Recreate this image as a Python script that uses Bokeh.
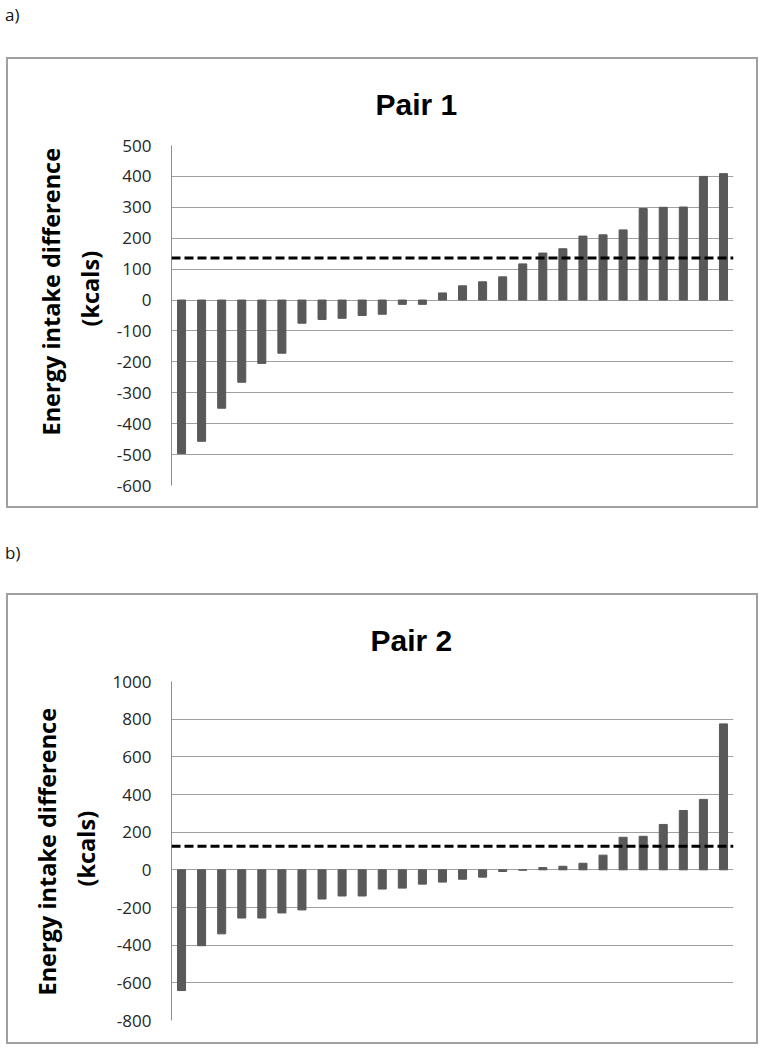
import numpy as np
from bokeh.plotting import figure
from bokeh.models import (Range1d, FixedTicker, Span, Div, ColumnDataSource, Title,
                          NumeralTickFormatter)
from bokeh.layouts import column
from bokeh.embed import file_html
from bokeh.resources import INLINE

# ---------------- data ----------------
pair1_diff = [-497, -457, -350, -266, -205, -172, -75, -63, -59, -50, -46, -14, -14,
              23, 46, 59, 75, 117, 152, 166, 207, 211, 227, 296, 300, 301, 400, 409]
pair1_line = 136
pair1_ticks = [-600, -500, -400, -300, -200, -100, 0, 100, 200, 300, 400, 500]

pair2_diff = [-641, -403, -340, -256, -256, -229, -213, -155, -139, -139, -102, -97, -76,
              -65, -50, -39, -9, -2, 12, 19, 35, 78, 173, 178, 241, 315, 374, 775]
pair2_line = 125
pair2_ticks = [-800, -600, -400, -200, 0, 200, 400, 600, 800, 1000]

titles = ["Pair 1", "Pair 2"]
panel_labels = ["a)", "b)"]
ylabel_1 = "Energy intake difference"
ylabel_2 = "(kcals)"

FONT = "Open Sans"
TITLE_FONT = "Liberation Sans"
BAR = "#595959"
GRID = "#a0a0a0"
BOX = "#a0a0a0"

W, H = 752, 451


def make_chart(vals, ticks, line_val, title, mb_left, mb_top, mb_bottom,
               title_off, ylab1_off, ylab2_off):
    n = len(vals)
    src = ColumnDataSource(dict(x=list(range(1, n + 1)), y=vals))
    p = figure(width=W, height=H, x_range=Range1d(0.5, n + 0.5),
               y_range=Range1d(min(ticks), max(ticks)),
               output_backend="svg", toolbar_location=None,
               min_border_left=mb_left, min_border_right=27,
               min_border_top=mb_top, min_border_bottom=mb_bottom,
               outline_line_color=None, margin=(0, 0, 0, 6))
    p.styles = {"border": f"2px solid {BOX}"}
    p.xaxis.visible = False
    p.xgrid.visible = False
    p.ygrid.grid_line_color = GRID
    p.ygrid.grid_line_width = 1
    ax = p.yaxis[0]
    ax.ticker = FixedTicker(ticks=ticks)
    ax.formatter = NumeralTickFormatter(format="0")
    ax.major_tick_in = 0
    ax.major_tick_out = 0
    ax.minor_tick_in = 0
    ax.minor_tick_out = 0
    ax.axis_line_color = "#8c8c8c"
    ax.major_label_text_font = FONT
    ax.major_label_text_font_size = "17px"
    ax.major_label_text_color = "#262626"
    ax.major_label_standoff = 20

    p.vbar(x="x", top="y", bottom=0, width=0.4, source=src,
           fill_color=BAR, line_color=BAR)
    p.add_layout(Span(location=line_val, dimension="width", line_color="black",
                      line_width=3, line_dash="9 4"))

    p.title.text = title
    p.title.align = "left"
    p.title.offset = title_off
    p.title.standoff = 50
    p.title.text_font = TITLE_FONT
    p.title.text_font_style = "bold"
    p.title.text_font_size = "30px"
    p.title.text_color = "black"

    for txt, so, off in [(ylabel_2, 15, ylab2_off), (ylabel_1, -4, ylab1_off)]:
        t = Title(text=txt, align="left", offset=off, standoff=so,
                  text_font=FONT, text_font_style="bold", text_font_size="23.5px",
                  text_color="black")
        p.add_layout(t, "left")
    return p


def make_div(txt, h, pad):
    return Div(text=f'<div style="font-family:\'Open Sans\';font-size:17px;'
                    f'line-height:18px;padding-top:{pad}px;color:#111;">{txt}</div>',
               width=740, height=h, margin=(0, 0, 0, 5))


p1 = make_chart(pair1_diff, pair1_ticks, pair1_line, titles[0], 155, 86, 25, 204, 50, 159)
p2 = make_chart(pair2_diff, pair2_ticks, pair2_line, titles[1], 163, 86, 26, 199, 25, 134)

layout = column(make_div(panel_labels[0], 57, 6), p1,
                make_div(panel_labels[1], 85, 36), p2, spacing=0)

open("out.html", "w").write(file_html(layout, INLINE))
